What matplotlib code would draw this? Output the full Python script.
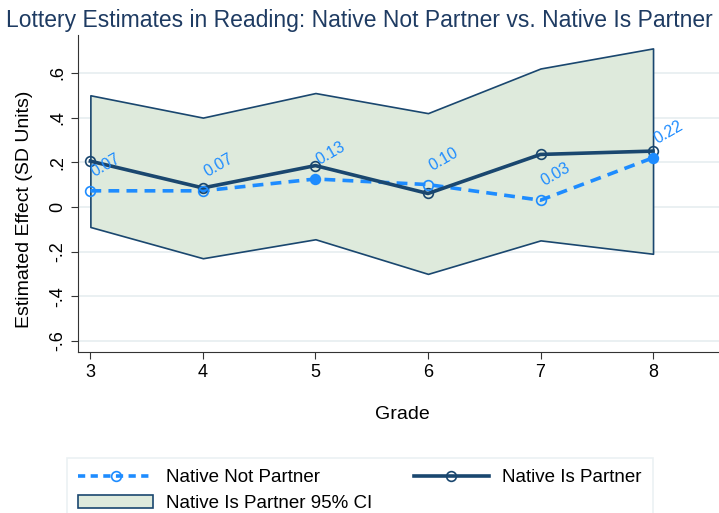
import matplotlib
matplotlib.use('Agg')
import matplotlib.pyplot as plt
from matplotlib.lines import Line2D
from matplotlib.patches import Patch

plt.rcParams['font.family'] = ['Liberation Sans', 'DejaVu Sans']

# data
grades = [3, 4, 5, 6, 7, 8]
not_partner = [0.072, 0.072, 0.125, 0.10, 0.03, 0.22]
not_partner_labels = ["0.07", "0.07", "0.13", "0.10", "0.03", "0.22"]
not_partner_filled = [False, False, True, False, False, True]
is_partner = [0.205, 0.085, 0.185, 0.06, 0.235, 0.25]
ci_upper = [0.50, 0.40, 0.51, 0.42, 0.62, 0.71]
ci_lower = [-0.09, -0.23, -0.145, -0.30, -0.15, -0.21]
yticks = [-0.6, -0.4, -0.2, 0, 0.2, 0.4, 0.6]
ytick_labels = ["-.6", "-.4", "-.2", "0", ".2", ".4", ".6"]

navy = '#1a476f'
blue = '#1e8cff'
fill = '#deeadc'

fig = plt.figure(figsize=(7.19, 5.13), dpi=100)
ax = fig.add_axes([78/719, 1 - 352/513, 1 - 78/719 + 0.01, (352 - 35)/513])

ax.fill_between(grades, ci_lower, ci_upper, facecolor=fill, edgecolor=navy, linewidth=1.2, zorder=2)
ax.plot(grades, is_partner, color=navy, linewidth=2.6, marker='o', markersize=7,
        markerfacecolor='none', markeredgecolor=navy, markeredgewidth=1.2, zorder=4)
ax.plot(grades, not_partner, color=blue, linewidth=2.6, linestyle=(0, (3, 2)), zorder=3)
for g, v, f in zip(grades, not_partner, not_partner_filled):
    ax.plot(g, v, marker='o', markersize=7, markerfacecolor=blue if f else 'none',
            markeredgecolor=blue, markeredgewidth=1.2, zorder=5)
for g, v, lab in zip(grades, not_partner, not_partner_labels):
    ax.annotate(lab, (g, v), xytext=(4, 8), textcoords='offset points', color=blue,
                fontsize=11.5, rotation=30, rotation_mode='anchor', ha='left', va='bottom', zorder=6)

ax.set_xlim(2.89, 8.65)
ax.set_ylim(-0.65, 0.77)
ax.set_xticks(grades)
ax.set_yticks(yticks)
ax.set_yticklabels(ytick_labels, rotation=90, va='center')
ax.tick_params(axis='both', labelsize=13, length=5, color='#333333')
ax.yaxis.grid(True, color='#e6eef0', linewidth=1.2, zorder=0)
ax.set_axisbelow(True)
for s in ['top', 'right']:
    ax.spines[s].set_visible(False)
ax.spines['left'].set_color('#333333')
ax.spines['bottom'].set_color('#333333')

ax.set_xlabel("Grade", fontsize=14, labelpad=18)
ax.set_ylabel("Estimated Effect (SD Units)", fontsize=14)
ax.yaxis.set_label_coords(-0.07, 0.45)
fig.text(0.5, 1 - 20/513, "Lottery Estimates in Reading: Native Not Partner vs. Native Is Partner",
         ha='center', va='center', fontsize=16.5, color='#1e3b62')

h1 = Line2D([], [], color=blue, linewidth=2.6, linestyle=(0, (2, 1.5)), marker='o', markersize=7,
            markerfacecolor='none', markeredgewidth=1.2)
h2 = Line2D([], [], color=navy, linewidth=2.6, marker='o', markersize=7,
            markerfacecolor='none', markeredgewidth=1.2)
h3 = Patch(facecolor=fill, edgecolor=navy, linewidth=1.2)
leg = fig.legend([h1, h3, h2], ["Native Not Partner", "Native Is Partner 95% CI", "Native Is Partner"],
                 ncol=2, loc='upper left', bbox_to_anchor=(67/719, 1 - 458/513), fontsize=13.5,
                 handlelength=4.0, handletextpad=0.7, columnspacing=2.2, fancybox=False,
                 frameon=True, borderaxespad=0, borderpad=0.6, labelspacing=0.45)
leg.get_frame().set_edgecolor('#e6eef0')
leg.get_frame().set_linewidth(1.2)

fig.savefig('out.png', dpi=100)
